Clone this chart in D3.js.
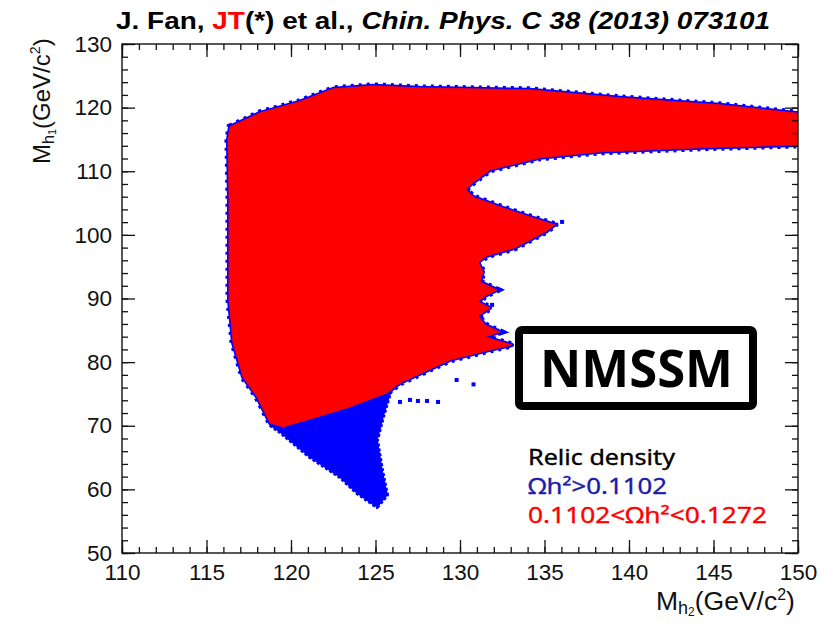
<!DOCTYPE html>
<html>
<head>
<meta charset="utf-8">
<script src="https://cdn.jsdelivr.net/npm/d3@7"></script>
<style>
	body { margin: 0; background: #fff; }
	svg { display: block; }
</style>
</head>
<body>
<svg id="chart" width="821" height="623"></svg>
<script>
// axis ranges and ticks
const xDomain = [110, 150];
const yDomain = [50, 130];
const xMajor = [110, 115, 120, 125, 130, 135, 140, 145, 150];
const yMajor = [50, 60, 70, 80, 90, 100, 110, 120, 130];
const xMinor = d3.range(110, 151, 1);
const yMinor = d3.range(50, 131, 2);

// outline of the 0.1102<Oh2<0.1272 region (M_h2, M_h1)
const redOutline = [
	[116.39, 116.98], [118.17, 119.18], [120.53, 120.95], [122.49, 122.96],
	[124.85, 123.43], [127.63, 123.11], [134.14, 122.80], [139.47, 121.54],
	[145.38, 120.44], [150.2, 119.06], [150.2, 114.15], [144.20, 113.68],
	[138.28, 113.05], [134.73, 112.11], [131.78, 110.22], [130.59, 107.86],
	[130.36, 107.08], [130.77, 105.97], [132.54, 104.25], [134.14, 102.83],
	[135.60, 101.60], [135.15, 100.63], [134.14, 99.21], [133.25, 97.96],
	[131.60, 96.70], [131.07, 95.75], [131.36, 94.18], [131.18, 92.61],
	[132.19, 91.35], [131.48, 90.41], [131.07, 89.47], [131.78, 88.52],
	[131.07, 87.26], [131.48, 85.85], [132.37, 84.75], [131.48, 83.96],
	[133.08, 82.70], [131.78, 81.92], [129.41, 80.35], [126.45, 76.73],
	[125.68, 75.16], [123.49, 72.96], [121.54, 71.38], [119.53, 69.81],
	[118.76, 70.44], [117.99, 74.53], [117.16, 77.67], [116.57, 83.02],
	[116.33, 89.78], [116.33, 105.50], [116.27, 114.94]
];

// outline of the Oh2>0.1102 tail below the red region
const blueOutline = [
	[118.76, 70.13], [119.35, 69.03], [121.12, 65.09], [122.90, 61.95],
	[123.91, 59.43], [125.09, 57.23], [125.68, 59.12], [125.38, 63.05],
	[125.09, 67.77], [125.44, 71.38], [125.86, 75.16], [126.15, 76.42],
	[122.30, 75.60]
];

// isolated Oh2>0.1102 points
const blueDots = [
	[126.45, 73.74], [127.04, 74.06], [127.51, 73.90], [128.05, 73.90],
	[128.70, 73.74], [136.04, 102.04], [135.70, 101.60], [131.90, 89.00],
	[132.00, 84.60], [130.80, 76.50], [129.80, 77.20]
];

const legendLines = [
	{text: "Relic density", color: "#000000"},
	{text: "Ωh²>0.1102", color: "#1c1ca8"},
	{text: "0.1102<Ωh²<0.1272", color: "#ff0000"}
];

const svg = d3.select("#chart");
const x = d3.scaleLinear().domain(xDomain).range([122, 798]);
const y = d3.scaleLinear().domain(yDomain).range([553, 44]);
const axisFont = "'Liberation Sans', Arial, sans-serif";

svg.append("clipPath").attr("id", "plotClip")
	.append("rect").attr("x", 122).attr("y", 44).attr("width", 676).attr("height", 509);

const plot = svg.append("g").attr("clip-path", "url(#plotClip)");
const line = d3.line().x(d => x(d[0])).y(d => y(d[1])).curve(d3.curveLinearClosed);

// blue rim under the red region, solid plus a ragged dotted layer
plot.append("path").attr("d", line(redOutline))
	.attr("fill", "#0000ff").attr("stroke", "#0000ff")
	.attr("stroke-width", 4).attr("stroke-linejoin", "round");
plot.append("path").attr("d", line(redOutline))
	.attr("fill", "none").attr("stroke", "#0000ff")
	.attr("stroke-width", 7).attr("stroke-dasharray", "3 5");
plot.append("path").attr("d", line(blueOutline))
	.attr("fill", "#0000ff").attr("stroke", "#0000ff")
	.attr("stroke-width", 4).attr("stroke-linejoin", "round").attr("stroke-dasharray", "3 2");
plot.append("path").attr("d", line(blueOutline))
	.attr("fill", "#0000ff").attr("stroke", "#0000ff").attr("stroke-width", 1.5);
plot.selectAll("rect.dot").data(blueDots).join("rect")
	.attr("class", "dot")
	.attr("x", d => x(d[0]) - 2).attr("y", d => y(d[1]) - 2)
	.attr("width", 4).attr("height", 4).attr("fill", "#0000ff");
plot.append("path").attr("d", line(redOutline))
	.attr("fill", "#ff0000").attr("stroke", "#ff0000").attr("stroke-width", 0.8);

// axes, ROOT style ticks inside the frame
function styleAxis(g) {
	g.select(".domain").remove();
	g.selectAll(".tick line").attr("stroke", "#111").attr("stroke-width", 1.3);
	g.selectAll("text").attr("font-family", axisFont).attr("font-size", 22.5).attr("fill", "#111");
}

svg.append("g").attr("transform", "translate(0,553)")
	.call(d3.axisBottom(x).tickValues(xMinor).tickSize(-6).tickFormat("")).call(styleAxis);
svg.append("g").attr("transform", "translate(0,553)")
	.call(d3.axisBottom(x).tickValues(xMajor).tickSizeInner(-13).tickSizeOuter(0)
		.tickPadding(11).tickFormat(d3.format("d"))).call(styleAxis);
svg.append("g").attr("transform", "translate(0,44)")
	.call(d3.axisTop(x).tickValues(xMinor).tickSize(-6).tickFormat("")).call(styleAxis);
svg.append("g").attr("transform", "translate(0,44)")
	.call(d3.axisTop(x).tickValues(xMajor).tickSize(-13).tickFormat("")).call(styleAxis);

svg.append("g").attr("transform", "translate(122,0)")
	.call(d3.axisLeft(y).tickValues(yMinor).tickSize(-6).tickFormat("")).call(styleAxis);
svg.append("g").attr("transform", "translate(122,0)")
	.call(d3.axisLeft(y).tickValues(yMajor).tickSizeInner(-13).tickSizeOuter(0)
		.tickPadding(10).tickFormat(d3.format("d"))).call(styleAxis);
svg.append("g").attr("transform", "translate(798,0)")
	.call(d3.axisRight(y).tickValues(yMinor).tickSize(-6).tickFormat("")).call(styleAxis);
svg.append("g").attr("transform", "translate(798,0)")
	.call(d3.axisRight(y).tickValues(yMajor).tickSize(-13).tickFormat("")).call(styleAxis);

svg.append("rect").attr("x", 122).attr("y", 44).attr("width", 676).attr("height", 509)
	.attr("fill", "none").attr("stroke", "#111").attr("stroke-width", 1.4);

// axis titles
function massLabel(t, sub, size) {
	t.attr("font-family", axisFont).attr("font-size", size).attr("fill", "#111");
	t.append("tspan").text("M");
	t.append("tspan").attr("font-size", size * 0.68).attr("dy", 4).text("h");
	t.append("tspan").attr("font-size", size * 0.45).attr("dy", 2).text(sub);
	t.append("tspan").attr("dy", -6).text("(GeV/c");
	t.append("tspan").attr("font-size", size * 0.6).attr("dy", -10).text("2");
	t.append("tspan").attr("dy", 10).text(")");
}
svg.append("text").attr("x", 656).attr("y", 610).call(massLabel, "2", 26.5);
svg.append("text").attr("transform", "translate(50,164) rotate(-90)").call(massLabel, "1", 24);

// title
const title = svg.append("text").attr("x", 116).attr("y", 29)
	.attr("font-family", axisFont).attr("font-size", 23).attr("font-weight", "bold")
	.attr("textLength", 654).attr("lengthAdjust", "spacingAndGlyphs");
title.append("tspan").text("J. Fan, ");
title.append("tspan").attr("fill", "#ff0000").text("JT");
title.append("tspan").text("(*) et al., ");
title.append("tspan").attr("font-style", "italic").text("Chin. Phys. C 38 (2013) 073101");

// NMSSM box
svg.append("rect").attr("x", 519).attr("y", 330).attr("width", 234).attr("height", 76)
	.attr("rx", 3).attr("fill", "#fff").attr("stroke", "#000").attr("stroke-width", 8);
svg.append("text").attr("x", 540).attr("y", 387)
	.attr("font-family", "'Noto Sans', 'Open Sans', sans-serif").attr("font-size", 52)
	.attr("font-weight", "bold").attr("textLength", 193).attr("lengthAdjust", "spacingAndGlyphs")
	.text("NMSSM");

// legend
const legendWidths = [147, 139, 239];
svg.selectAll("text.legend").data(legendLines).join("text")
	.attr("class", "legend")
	.attr("x", 528).attr("y", (d, i) => 465 + i * 29)
	.attr("font-family", "'Noto Sans', 'Open Sans', sans-serif").attr("font-size", 22)
	.attr("fill", d => d.color).attr("stroke", d => d.color).attr("stroke-width", 0.35)
	.attr("textLength", (d, i) => legendWidths[i]).attr("lengthAdjust", "spacingAndGlyphs")
	.text(d => d.text);
</script>
</body>
</html>
